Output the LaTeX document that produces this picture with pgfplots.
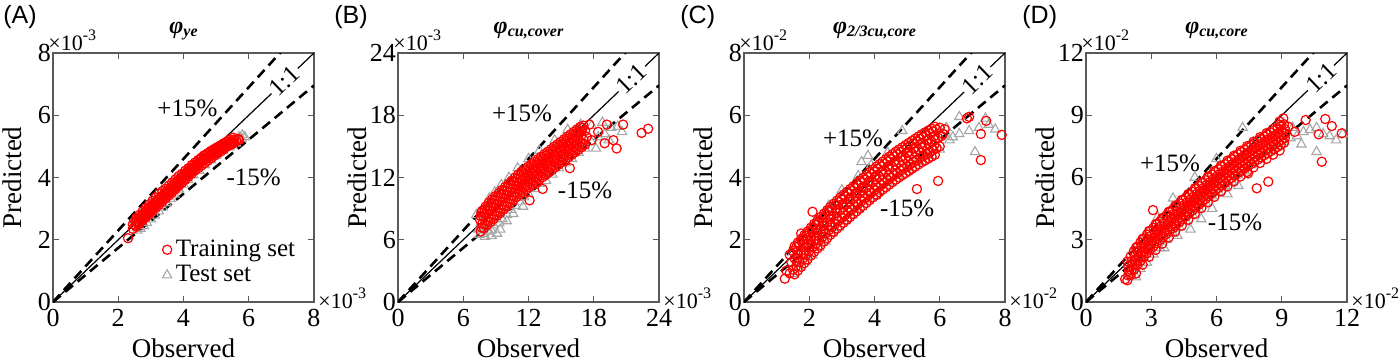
\documentclass[border=0pt]{standalone}
\usepackage{fontspec}
\setmainfont{Liberation Serif}
\newfontfamily\arialf{Liberation Sans}
\usepackage{pgfplots}
\pgfplotsset{compat=1.18}
\newcommand\mult[1]{×10\raisebox{5pt}{\fontsize{8}{8}\selectfont -#1}}
\newcommand\ttl[1]{φ\raisebox{-1.5pt}{\fontsize{8}{8}\selectfont #1}}
\pgfplotsset{
  myax/.style={
    scale only axis, width=130.5pt, height=124.5pt,
    anchor=south west,
    xmin=0, ymin=0,
    axis line style={black!65, line width=0.55pt},
    every tick/.style={black!65, line width=0.55pt},
    tick align=inside, major tick length=2.8pt,
    scaled ticks=false,
    /pgf/number format/assume math mode=true,
    ticklabel style={font=\fontsize{13}{13}\selectfont},
    yticklabel style={xshift=2.5pt},
    xlabel={Observed}, ylabel={Predicted},
    label style={font=\fontsize{13.5}{14}\selectfont},
    xlabel style={at={(rel axis cs:0.5,-0.221)}, anchor=base},
    ylabel style={at={(rel axis cs:-0.119,0.5)}, anchor=base},
    title style={font=\bfseries\itshape\fontsize{12}{12}\selectfont, at={(rel axis cs:0.5,1)}, anchor=base, yshift=4pt},
  },
  trn/.style={only marks, mark=o, mark size=2.3pt, red, line width=0.6pt},
  tst/.style={only marks, mark=triangle, mark size=2.7pt, black!35, line width=0.55pt},
  dsh/.style={black, line width=1.3pt, dash pattern=on 5pt off 3pt},
  one/.style={black, line width=0.6pt},
}
\tikzset{
  ann/.style={font=\fontsize{12.5}{12.5}\selectfont},
  oneone/.style={font=\fontsize{12.5}{12.5}\selectfont, rotate=44, fill=white, inner sep=1pt},
  plab/.style={anchor=north west, inner sep=0pt, font=\arialf\fontsize{12.5}{12.5}\selectfont},
  mlab/.style={anchor=base west, inner sep=0pt, font=\fontsize{11}{11}\selectfont},
}
\begin{document}
\begin{tikzpicture}
\path[use as bounding box] (-26.5pt,-29.5pt) rectangle (673.5pt,151pt);
% ---------------- A
\begin{axis}[myax, name=A, at={(0pt,0pt)}, xmax=8, ymax=8, xtick={0,2,4,6,8}, ytick={0,2,4,6,8},
  title={\ttl{ye}},
  legend style={at={(rel axis cs:0.418,0.159)}, anchor=west, draw=none, fill=none,
    font=\fontsize{12.5}{12.5}\selectfont, row sep=-1pt, inner sep=0pt},
  legend cell align=left,
  legend image code/.code={\draw[mark repeat=2,mark phase=2,#1] plot coordinates {(0cm,0cm)(0.15cm,0cm)(0.35cm,0cm)};}]
\addlegendimage{trn}\addlegendentry{Training set}
\addlegendimage{tst}\addlegendentry{Test set}
\addplot[tst, forget plot] table {
2.50 2.62
2.58 2.30
2.68 2.36
2.72 2.86
2.78 2.44
2.88 2.54
2.92 3.10
3.00 2.66
3.02 3.24
3.12 2.78
3.24 2.92
3.32 3.56
3.36 3.04
3.48 3.18
3.60 3.32
3.72 3.46
3.86 3.62
4.00 3.78
4.14 3.92
4.30 4.08
4.48 4.22
4.66 4.40
4.84 4.56
5.00 4.70
5.20 4.86
5.40 4.98
5.60 5.10
5.78 5.24
5.88 5.30
5.80 5.36
5.70 5.30
};
\addplot[trn, forget plot] table {
2.30 2.05
2.45 2.35
2.45 2.50
2.55 2.42
2.55 2.58
2.55 2.70
2.60 2.50
2.65 2.52
2.65 2.66
2.65 2.80
2.70 2.62
2.75 2.62
2.75 2.78
2.75 2.92
2.80 2.72
2.85 2.72
2.85 2.88
2.85 3.02
2.90 2.82
2.95 2.82
2.95 2.98
2.95 3.14
3.00 2.95
3.05 2.92
3.05 3.08
3.05 3.25
3.10 3.05
3.15 3.02
3.15 3.18
3.15 3.36
3.20 3.20
3.25 3.12
3.25 3.30
3.25 3.48
3.30 3.35
3.35 3.22
3.35 3.40
3.35 3.56
3.40 3.45
3.45 3.32
3.45 3.50
3.45 3.64
3.50 3.52
3.55 3.42
3.55 3.60
3.55 3.74
3.60 3.62
3.65 3.52
3.65 3.70
3.65 3.84
3.70 3.72
3.75 3.62
3.75 3.80
3.75 3.94
3.80 3.82
3.85 3.72
3.85 3.90
3.85 4.04
3.90 3.92
3.95 3.82
3.95 3.98
3.95 4.12
4.00 4.02
4.05 3.92
4.05 4.08
4.05 4.22
4.10 4.12
4.15 4.02
4.15 4.18
4.15 4.30
4.20 4.20
4.25 4.12
4.25 4.27
4.25 4.40
4.30 4.30
4.35 4.22
4.35 4.36
4.35 4.48
4.40 4.38
4.45 4.30
4.45 4.45
4.45 4.56
4.50 4.46
4.55 4.38
4.55 4.52
4.55 4.64
4.60 4.54
4.65 4.46
4.65 4.60
4.65 4.72
4.70 4.62
4.75 4.54
4.75 4.68
4.75 4.78
4.80 4.70
4.85 4.62
4.85 4.75
4.85 4.86
4.90 4.76
4.95 4.70
4.95 4.82
4.95 4.92
5.00 4.84
5.05 4.78
5.05 4.88
5.05 4.98
5.10 4.90
5.15 4.84
5.15 4.95
5.15 5.04
5.20 4.96
5.25 4.92
5.25 5.02
5.25 5.10
5.30 5.04
5.35 5.00
5.35 5.10
5.40 5.06
5.45 5.05
5.45 5.16
5.50 5.12
5.55 5.10
5.55 5.22
5.62 5.18
5.68 5.24
5.70 5.20
2.52 2.46
2.52 2.60
2.62 2.56
2.62 2.70
2.72 2.66
2.72 2.80
2.82 2.76
2.82 2.90
2.92 2.86
2.92 3.00
3.02 2.96
3.02 3.10
3.12 3.06
3.12 3.20
3.22 3.16
3.22 3.30
3.32 3.26
3.32 3.40
3.42 3.36
3.42 3.50
3.52 3.46
3.52 3.60
3.62 3.56
3.62 3.70
3.72 3.66
3.72 3.80
3.82 3.76
3.82 3.90
3.92 3.86
3.92 4.00
4.02 3.96
4.02 4.10
4.12 4.06
4.12 4.20
4.22 4.16
4.22 4.30
4.32 4.26
4.32 4.40
4.42 4.36
4.42 4.50
4.52 4.46
4.52 4.60
4.62 4.56
4.62 4.70
4.72 4.62
4.72 4.76
4.82 4.69
4.82 4.83
4.92 4.75
4.92 4.89
5.02 4.82
5.02 4.96
5.12 4.88
5.12 5.02
5.22 4.95
5.22 5.09
5.32 5.01
5.32 5.15
5.42 5.08
5.42 5.22
5.52 5.14
5.52 5.28
};
\addplot[one, forget plot] coordinates {(0,0) (8,8)};
\addplot[dsh, forget plot] coordinates {(0,0) (8,9.2)};
\addplot[dsh, forget plot] coordinates {(0,0) (8,6.957)};
\node[ann] at (axis cs:4.12,6.23) {+15\%};
\node[ann] at (axis cs:6.15,4.02) {-15\%};
\node[oneone] at (axis cs:7.1,7.1) {1:1};
\end{axis}
\node[plab] at ([xshift=-25pt,yshift=24pt]A.north west) {(A)};
\node[mlab] at ([xshift=-2.5pt,yshift=1.5pt]A.north west) {\mult{3}};
\node[mlab] at ([xshift=2pt,yshift=-3pt]A.south east) {\mult{3}};
% ---------------- B
\begin{axis}[myax, name=B, at={(172.5pt,0pt)}, xmax=24, ymax=24, xtick={0,6,12,18,24}, ytick={0,6,12,18,24},
  title={\ttl{cu,cover}}]
\addplot[tst] table {
7.2 8.4
7.4 7.0
7.6 7.6
7.8 6.6
8.0 7.2
8.3 6.8
8.6 6.9
8.8 7.4
9.1 6.6
9.3 7.6
9.6 8.0
10.0 8.4
10.4 8.9
10.8 9.3
11.2 9.7
11.6 10.1
12.0 10.4
12.6 10.9
13.0 11.4
13.6 11.7
14.2 12.3
14.8 12.9
15.4 13.4
16.0 13.8
16.6 14.4
17.2 14.8
17.8 15.4
18.4 15.9
19.0 16.2
19.6 16.8
20.2 16.9
18.8 17.3
17.8 17.0
16.8 17.1
15.6 16.6
14.4 15.6
8.4 10.0
8.9 10.6
9.5 11.3
10.2 12.0
11.0 12.9
12.0 13.8
13.0 14.6
18.2 14.8
20.6 16.4
19.4 15.6
7.5 6.5
8.0 6.3
8.6 6.4
9.4 7.0
10.0 7.8
10.6 8.5
11.5 9.2
};
\addplot[trn] table {
7.6 6.8
7.75 7.55
7.6 8.3
7.75 8.8
7.9 7.1
8.05 7.85
7.9 8.6
8.05 9.2
8.2 7.4
8.35 8.15
8.2 8.9
8.35 9.6
8.5 7.7
8.65 8.45
8.5 9.2
8.65 9.9
8.8 8.0
8.95 8.75
8.8 9.5
8.95 10.2
9.1 8.3
9.25 9.05
9.1 9.8
9.25 10.5
9.4 8.6
9.55 9.35
9.4 10.1
9.55 10.8
9.7 8.9
9.85 9.65
9.7 10.4
9.85 11.1
10.0 9.2
10.15 9.95
10.0 10.7
10.15 11.4
10.3 9.5
10.45 10.25
10.3 11.0
10.45 11.7
10.6 9.8
10.75 10.55
10.6 11.3
10.75 12.0
10.9 10.1
11.05 10.85
10.9 11.6
11.05 12.3
11.2 10.36
11.35 11.11
11.2 11.86
11.35 12.56
11.5 10.6
11.65 11.35
11.5 12.1
11.65 12.8
11.8 10.84
11.95 11.59
11.8 12.34
11.95 13.04
12.1 11.08
12.25 11.83
12.1 12.58
12.25 13.28
12.4 11.32
12.55 12.07
12.4 12.82
12.55 13.52
12.7 11.56
12.85 12.31
12.7 13.06
12.85 13.76
13.0 11.8
13.15 12.55
13.0 13.3
13.15 14.0
13.3 12.04
13.45 12.79
13.3 13.54
13.45 14.24
13.6 12.28
13.75 13.03
13.6 13.78
13.75 14.48
13.9 12.52
14.05 13.27
13.9 14.02
14.05 14.72
14.2 12.76
14.35 13.51
14.2 14.26
14.35 14.96
14.5 13.0
14.65 13.75
14.5 14.5
14.65 15.2
14.8 13.24
14.95 13.99
14.8 14.74
14.95 15.44
15.1 13.48
15.25 14.23
15.1 14.98
15.25 15.68
15.4 13.72
15.55 14.47
15.4 15.22
15.55 15.92
15.7 13.96
15.85 14.71
15.7 15.46
15.85 16.16
16.0 14.2
16.15 14.95
16.0 15.7
16.15 16.4
16.3 14.44
16.45 15.19
16.3 15.94
16.45 16.64
16.6 14.68
16.75 15.43
16.6 16.18
16.75 16.88
16.9 14.92
17.05 15.67
16.9 16.42
17.05 17.0
17.2 15.16
17.35 15.91
17.2 16.5
7.67 7.18
7.55 7.92
7.67 8.65
7.97 7.48
7.85 8.22
7.97 8.95
8.27 7.78
8.15 8.52
8.27 9.25
8.57 8.08
8.45 8.82
8.57 9.55
8.87 8.38
8.75 9.12
8.87 9.85
9.17 8.68
9.05 9.42
9.17 10.15
9.47 8.98
9.35 9.72
9.47 10.45
9.77 9.28
9.65 10.02
9.77 10.75
10.07 9.58
9.95 10.32
10.07 11.05
10.37 9.88
10.25 10.62
10.37 11.35
10.67 10.18
10.55 10.92
10.67 11.65
10.97 10.48
10.85 11.22
10.97 11.95
11.27 10.74
11.15 11.48
11.27 12.21
11.57 10.98
11.45 11.72
11.57 12.45
11.87 11.22
11.75 11.96
11.87 12.69
12.17 11.46
12.05 12.2
12.17 12.93
12.47 11.7
12.35 12.44
12.47 13.17
12.77 11.94
12.65 12.68
12.77 13.41
13.07 12.18
12.95 12.92
13.07 13.65
13.37 12.42
13.25 13.16
13.37 13.89
13.67 12.66
13.55 13.4
13.67 14.13
13.97 12.9
13.85 13.64
13.97 14.37
14.27 13.14
14.15 13.88
14.27 14.61
14.57 13.38
14.45 14.12
14.57 14.85
14.87 13.62
14.75 14.36
14.87 15.09
15.17 13.86
15.05 14.6
15.17 15.33
15.47 14.1
15.35 14.84
15.47 15.57
15.77 14.34
15.65 15.08
15.77 15.81
16.07 14.58
15.95 15.32
16.07 16.05
16.37 14.82
16.25 15.56
16.37 16.29
16.67 15.06
16.55 15.8
16.67 16.53
16.97 15.3
16.85 16.04
16.97 16.77
23.0 16.7
22.4 16.3
20.7 17.1
19.8 15.6
20.1 14.8
19.0 15.3
19.2 17.1
18.4 16.4
17.8 15.6
15.8 12.9
13.3 10.9
12.1 9.8
17.6 17.1
};
\addplot[one] coordinates {(0,0) (24,24)};
\addplot[dsh] coordinates {(0,0) (24,27.6)};
\addplot[dsh] coordinates {(0,0) (24,20.87)};
\node[ann] at (axis cs:11.4,18.2) {+15\%};
\node[ann] at (axis cs:17.2,10.8) {-15\%};
\node[oneone] at (axis cs:21.5,21.5) {1:1};
\end{axis}
\node[plab] at ([xshift=-32pt,yshift=24pt]B.north west) {(B)};
\node[mlab] at ([xshift=-2.5pt,yshift=1.5pt]B.north west) {\mult{3}};
\node[mlab] at ([xshift=2pt,yshift=-3pt]B.south east) {\mult{3}};
% ---------------- C
\begin{axis}[myax, name=C, at={(345.5pt,0pt)}, xmax=8, ymax=8, xtick={0,2,4,6,8}, ytick={0,2,4,6,8},
  title={\ttl{2/3cu,core}}]
\addplot[tst] table {
1.5 0.9
1.7 1.1
1.9 1.3
2.1 1.5
2.3 1.75
2.5 1.95
2.7 2.2
2.9 2.4
3.1 2.6
3.3 2.8
3.5 3.0
3.8 3.3
4.1 3.55
4.4 3.85
4.7 4.05
5.0 4.3
5.3 4.5
5.6 4.7
6.0 4.9
6.3 5.2
6.6 5.4
6.9 5.5
7.2 5.6
7.5 5.7
7.7 5.55
7.4 5.9
6.6 5.95
7.08 4.82
4.85 5.5
3.8 4.7
3.6 4.5
3.9 4.4
3.5 4.05
3.0 3.6
2.6 3.1
2.2 2.6
1.5 1.6
4.4 4.8
6.2 5.6
6.4 5.3
};
\addplot[trn] table {
1.25 0.75
1.30 1.0
1.4 0.92
1.45 1.28
1.4 1.52
1.5 1.04
1.55 1.40
1.5 1.64
1.6 1.16
1.65 1.52
1.6 1.76
1.7 1.28
1.75 1.64
1.7 1.88
1.8 1.40
1.85 1.76
1.8 2.00
1.9 1.52
1.95 1.88
1.9 2.12
2.0 1.64
2.05 2.00
2.0 2.24
2.1 1.76
2.15 2.11
2.1 2.36
2.2 1.87
2.25 2.22
2.2 2.47
2.3 1.98
2.35 2.33
2.3 2.58
2.4 2.09
2.45 2.44
2.4 2.69
2.5 2.20
2.55 2.55
2.5 2.80
2.6 2.31
2.65 2.66
2.6 2.91
2.7 2.41
2.75 2.76
2.7 3.01
2.8 2.51
2.85 2.86
2.8 3.11
2.9 2.61
2.95 2.95
2.9 3.21
3.0 2.70
3.05 3.04
3.0 3.30
3.1 2.79
3.15 3.13
3.1 3.39
3.2 2.88
3.25 3.22
3.2 3.48
3.3 2.97
3.35 3.31
3.3 3.57
3.4 3.06
3.45 3.40
3.4 3.66
3.5 3.15
3.55 3.49
3.5 3.75
3.6 3.24
3.65 3.58
3.6 3.84
3.7 3.33
3.75 3.67
3.7 3.93
3.8 3.42
3.85 3.76
3.8 4.02
3.9 3.51
3.95 3.85
3.9 4.11
4.0 3.60
4.05 3.94
4.0 4.20
4.1 3.68
4.15 4.02
4.1 4.28
4.2 3.76
4.25 4.10
4.2 4.36
4.3 3.84
4.35 4.18
4.3 4.44
4.4 3.92
4.45 4.26
4.4 4.52
4.5 4.00
4.55 4.34
4.5 4.60
4.6 4.08
4.65 4.41
4.6 4.68
4.7 4.15
4.75 4.48
4.7 4.75
4.8 4.22
4.85 4.55
4.8 4.82
4.9 4.29
4.95 4.62
4.9 4.89
5.0 4.36
5.05 4.69
5.0 4.96
5.1 4.43
5.15 4.76
5.1 5.03
5.2 4.50
5.25 4.83
5.2 5.10
5.3 4.57
5.35 4.90
5.3 5.17
5.4 4.64
5.45 4.97
5.4 5.24
5.5 4.70
5.55 5.03
5.5 5.30
5.6 4.76
5.65 5.09
5.6 5.36
5.7 4.82
5.75 5.15
5.7 5.42
5.8 4.88
5.85 5.21
5.8 5.48
5.9 4.94
5.95 5.27
5.9 5.54
6.0 5.00
6.05 5.33
6.0 5.60
6.1 5.40
6.15 5.55
1.55 0.89
1.55 1.79
1.65 1.01
1.65 1.91
1.75 1.13
1.75 2.03
1.85 1.25
1.85 2.15
1.95 1.37
1.95 2.27
2.05 1.49
2.05 2.39
2.15 1.61
2.15 2.51
2.25 1.72
2.25 2.62
2.35 1.83
2.35 2.73
2.45 1.94
2.45 2.84
2.55 2.05
2.55 2.95
2.65 2.16
2.65 3.06
2.75 2.26
2.75 3.16
2.85 2.36
2.85 3.26
2.95 2.46
2.95 3.36
3.05 2.55
3.05 3.45
3.15 2.64
3.15 3.54
3.25 2.73
3.25 3.63
3.35 2.82
3.35 3.72
3.45 2.91
3.45 3.81
3.55 3.00
3.55 3.90
3.65 3.09
3.65 3.99
3.75 3.18
3.75 4.08
3.85 3.27
3.85 4.17
3.95 3.36
3.95 4.26
4.05 3.45
4.05 4.35
4.15 3.53
4.15 4.43
4.25 3.61
4.25 4.51
4.35 3.69
4.35 4.59
4.45 3.77
4.45 4.67
4.55 3.85
4.55 4.75
4.65 3.93
4.65 4.83
4.75 4.00
4.75 4.90
4.85 4.07
4.85 4.97
4.95 4.14
4.95 5.04
5.05 4.21
5.05 5.11
5.15 4.28
5.15 5.18
5.25 4.35
5.25 5.25
5.35 4.42
5.35 5.32
5.45 4.49
5.45 5.39
5.55 4.55
5.55 5.45
5.65 4.61
5.65 5.51
5.75 4.67
5.75 5.57
5.85 4.73
5.85 5.63
1.63 1.31
1.63 1.61
1.83 1.55
1.83 1.85
2.03 1.79
2.03 2.09
2.23 2.02
2.23 2.32
2.43 2.24
2.43 2.54
2.63 2.46
2.63 2.76
2.83 2.66
2.83 2.96
3.03 2.85
3.03 3.15
3.23 3.03
3.23 3.33
3.43 3.21
3.43 3.51
3.63 3.39
3.63 3.69
3.83 3.57
3.83 3.87
4.03 3.75
4.03 4.05
4.23 3.91
4.23 4.21
4.43 4.07
4.43 4.37
4.63 4.23
4.63 4.53
4.83 4.37
4.83 4.67
5.03 4.51
5.03 4.81
5.23 4.65
5.23 4.95
5.43 4.79
5.43 5.09
5.63 4.91
5.63 5.21
5.83 5.03
5.83 5.33
5.3 3.63
5.95 3.89
7.26 4.56
7.26 5.40
7.9 5.37
7.42 5.82
6.83 5.9
6.9 5.95
2.1 2.9
1.75 2.2
4.07 3.44
};
\addplot[one] coordinates {(0,0) (8,8)};
\addplot[dsh] coordinates {(0,0) (8,9.2)};
\addplot[dsh] coordinates {(0,0) (8,6.957)};
\node[ann] at (axis cs:3.34,5.27) {+15\%};
\node[ann] at (axis cs:5.0,3.02) {-15\%};
\node[oneone] at (axis cs:7.15,7.15) {1:1};
\end{axis}
\node[plab] at ([xshift=-32pt,yshift=24pt]C.north west) {(C)};
\node[mlab] at ([xshift=-2.5pt,yshift=1.5pt]C.north west) {\mult{2}};
\node[mlab] at ([xshift=2pt,yshift=-3pt]C.south east) {\mult{2}};
% ---------------- D
\begin{axis}[myax, name=D, at={(516.5pt,0pt)}, xmax=12, ymax=12, xtick={0,3,6,9,12}, ytick={0,3,6,9,12},
  title={\ttl{cu,core}}]
\addplot[tst] table {
2.1 1.25
2.3 1.2
2.5 1.6
2.8 1.9
3.1 2.3
3.4 2.6
3.7 3.0
4.0 3.3
4.3 3.6
4.6 3.9
4.9 4.2
5.2 4.5
5.5 4.8
5.8 5.1
6.1 5.3
6.4 5.6
6.7 5.8
7.0 6.1
7.3 6.3
7.6 6.6
7.9 6.9
8.2 7.1
8.5 7.3
8.8 7.5
9.1 7.7
9.4 7.9
9.7 8.0
10.0 8.2
10.3 8.3
10.6 8.4
10.9 8.1
11.2 8.0
11.8 8.1
10.6 7.24
7.2 8.4
6.0 6.9
5.0 6.0
4.0 5.0
3.3 4.1
2.7 3.2
2.3 2.6
9.9 7.6
9.5 8.4
11.5 7.8
4.8 3.5
5.3 4.0
5.8 4.5
4.2 3.2
3.6 2.6
6.5 5.2
7.0 5.6
};
\addplot[trn] table {
1.9 1.05
1.97 1.5
1.9 1.95
2.05 1.3
2.12 1.75
2.05 2.2
2.2 1.55
2.27 2.0
2.2 2.45
2.35 1.77
2.42 2.22
2.35 2.67
2.5 1.97
2.57 2.42
2.5 2.87
2.65 2.17
2.72 2.62
2.65 3.07
2.8 2.35
2.87 2.8
2.8 3.25
2.95 2.52
3.02 2.97
2.95 3.42
3.1 2.68
3.17 3.13
3.1 3.58
3.25 2.83
3.32 3.28
3.25 3.73
3.4 2.98
3.47 3.43
3.4 3.88
3.55 3.13
3.62 3.58
3.55 4.03
3.7 3.28
3.77 3.73
3.7 4.18
3.85 3.43
3.92 3.88
3.85 4.33
4.0 3.57
4.07 4.02
4.0 4.47
4.15 3.71
4.22 4.16
4.15 4.61
4.3 3.85
4.37 4.3
4.3 4.75
4.45 3.99
4.52 4.44
4.45 4.89
4.6 4.13
4.67 4.58
4.6 5.03
4.75 4.27
4.82 4.72
4.75 5.17
4.9 4.41
4.97 4.86
4.9 5.31
5.05 4.55
5.12 5.0
5.05 5.45
5.2 4.69
5.27 5.14
5.2 5.59
5.35 4.83
5.42 5.28
5.35 5.73
5.5 4.97
5.57 5.42
5.5 5.87
5.65 5.11
5.72 5.56
5.65 6.01
5.8 5.24
5.87 5.69
5.8 6.14
5.95 5.37
6.02 5.82
5.95 6.27
6.1 5.5
6.17 5.95
6.1 6.4
6.25 5.62
6.32 6.07
6.25 6.52
6.4 5.74
6.47 6.19
6.4 6.64
6.55 5.86
6.62 6.31
6.55 6.76
6.7 5.98
6.77 6.43
6.7 6.88
6.85 6.1
6.92 6.55
6.85 7.0
7.0 6.22
7.07 6.67
7.0 7.12
7.15 6.33
7.22 6.78
7.15 7.23
7.3 6.44
7.37 6.89
7.3 7.34
7.45 6.55
7.52 7.0
7.45 7.45
7.6 6.66
7.67 7.11
7.6 7.56
7.75 6.77
7.82 7.22
7.75 7.67
7.9 6.87
7.97 7.32
7.9 7.77
8.05 6.97
8.12 7.42
8.05 7.87
8.2 7.07
8.27 7.52
8.2 7.97
8.35 7.17
8.42 7.62
8.35 8.07
8.5 7.27
8.57 7.72
8.5 8.17
8.65 7.37
8.72 7.82
8.65 8.27
8.8 7.47
8.87 7.92
8.8 8.37
8.95 7.57
9.02 8.02
8.95 8.47
9.1 7.67
9.17 8.12
9.1 8.57
1.94 1.28
1.94 1.72
2.09 1.53
2.09 1.97
2.24 1.78
2.24 2.22
2.39 2.0
2.39 2.44
2.54 2.2
2.54 2.64
2.69 2.4
2.69 2.84
2.84 2.58
2.84 3.02
2.99 2.75
2.99 3.19
3.14 2.91
3.14 3.35
3.29 3.06
3.29 3.5
3.44 3.21
3.44 3.65
3.59 3.36
3.59 3.8
3.74 3.51
3.74 3.95
3.89 3.66
3.89 4.1
4.04 3.8
4.04 4.24
4.19 3.94
4.19 4.38
4.34 4.08
4.34 4.52
4.49 4.22
4.49 4.66
4.64 4.36
4.64 4.8
4.79 4.5
4.79 4.94
4.94 4.64
4.94 5.08
5.09 4.78
5.09 5.22
5.24 4.92
5.24 5.36
5.39 5.06
5.39 5.5
5.54 5.2
5.54 5.64
5.69 5.34
5.69 5.78
5.84 5.47
5.84 5.91
5.99 5.6
5.99 6.04
6.14 5.73
6.14 6.17
6.29 5.85
6.29 6.29
6.44 5.97
6.44 6.41
6.59 6.09
6.59 6.53
6.74 6.21
6.74 6.65
6.89 6.33
6.89 6.77
7.04 6.45
7.04 6.89
7.19 6.56
7.19 7.0
7.34 6.67
7.34 7.11
7.49 6.78
7.49 7.22
7.64 6.89
7.64 7.33
7.79 7.0
7.79 7.44
7.94 7.1
7.94 7.54
8.09 7.2
8.09 7.64
8.24 7.3
8.24 7.74
8.39 7.4
8.39 7.84
8.54 7.5
8.54 7.94
8.69 7.6
8.69 8.04
8.84 7.7
8.84 8.14
8.99 7.8
8.99 8.24
9.14 7.9
9.14 8.34
2.3 1.38
2.3 2.62
2.6 1.8
2.6 3.04
2.9 2.18
2.9 3.42
3.2 2.51
3.2 3.75
3.5 2.81
3.5 4.05
3.8 3.11
3.8 4.35
4.1 3.4
4.1 4.64
4.4 3.68
4.4 4.92
4.7 3.96
4.7 5.2
5.0 4.24
5.0 5.48
5.3 4.52
5.3 5.76
5.6 4.8
5.6 6.04
5.9 5.07
5.9 6.31
6.2 5.33
6.2 6.57
6.5 5.57
6.5 6.81
6.8 5.81
6.8 7.05
7.1 6.05
7.1 7.29
7.4 6.27
7.4 7.51
7.7 6.49
7.7 7.73
8.0 6.7
8.0 7.94
8.3 6.9
8.3 8.14
8.6 7.1
8.6 8.34
8.9 7.3
8.9 8.54
8.38 5.80
7.85 5.48
10.84 6.76
10.7 8.08
10.1 8.77
11.0 8.82
11.3 8.48
11.76 8.13
9.07 8.85
7.45 6.2
9.3 8.45
1.8 1.1
3.08 4.43
8.9 8.7
9.6 8.2
};
\addplot[one] coordinates {(0,0) (12,12)};
\addplot[dsh] coordinates {(0,0) (12,13.8)};
\addplot[dsh] coordinates {(0,0) (12,10.435)};
\node[ann] at (axis cs:3.86,6.7) {+15\%};
\node[ann] at (axis cs:6.85,3.86) {-15\%};
\node[oneone] at (axis cs:10.8,10.8) {1:1};
\end{axis}
\node[plab] at ([xshift=-32pt,yshift=24pt]D.north west) {(D)};
\node[mlab] at ([xshift=-2.5pt,yshift=1.5pt]D.north west) {\mult{2}};
\node[mlab] at ([xshift=2pt,yshift=-3pt]D.south east) {\mult{2}};
\end{tikzpicture}
\end{document}
